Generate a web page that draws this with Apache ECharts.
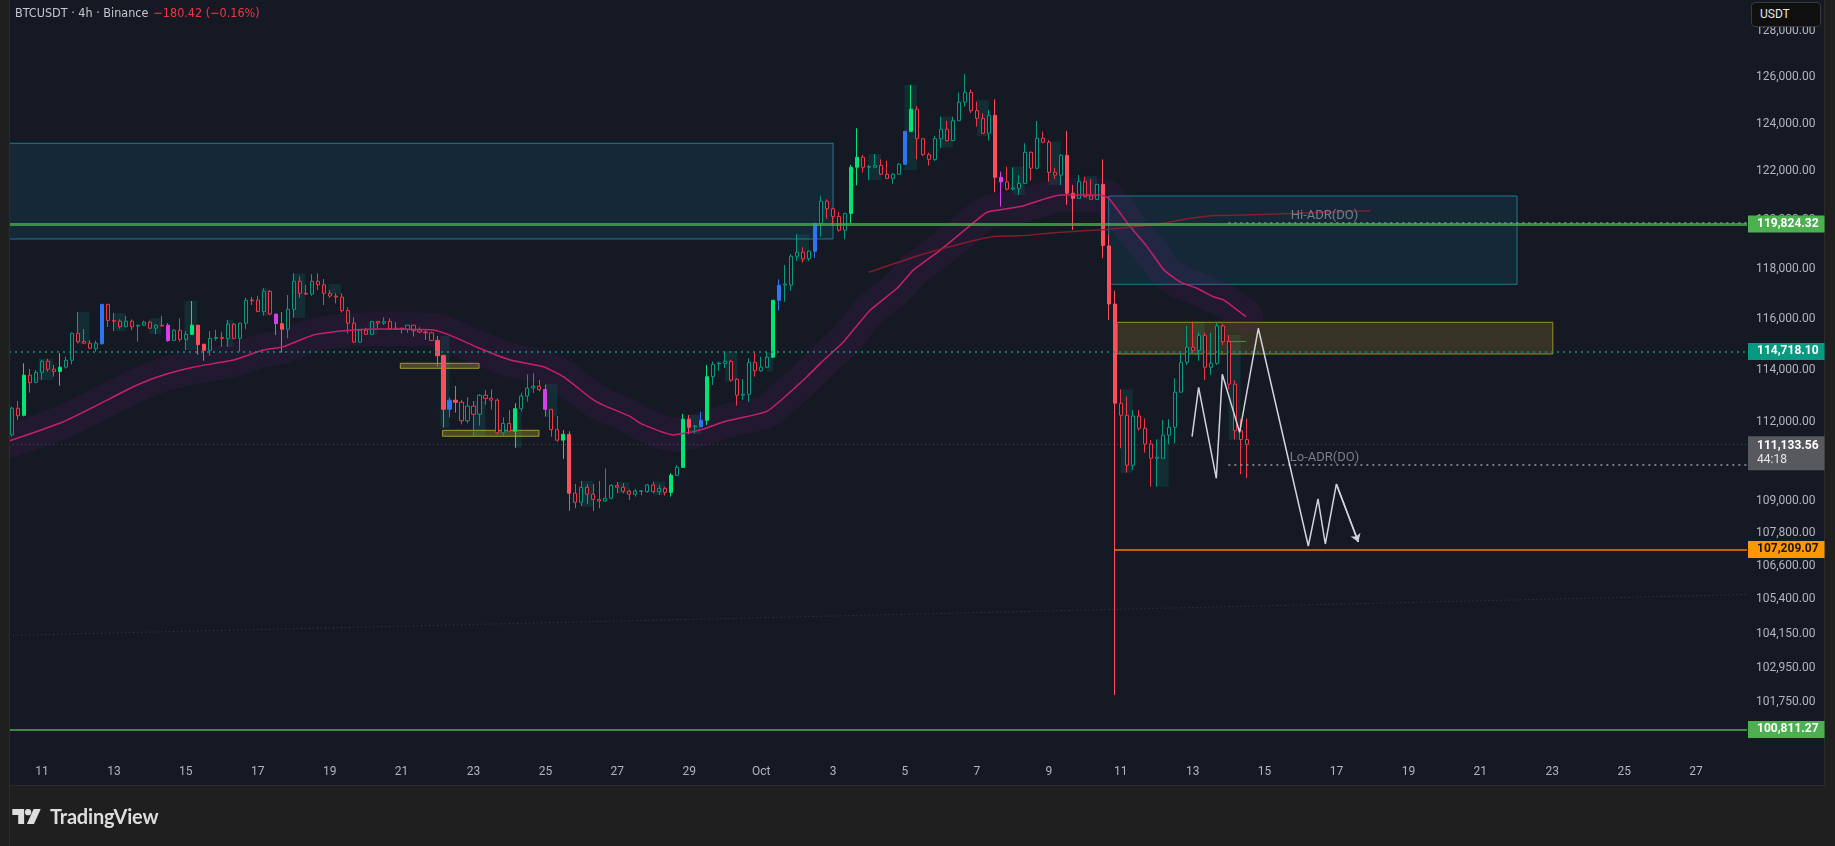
<!DOCTYPE html>
<html>
<head>
<meta charset="utf-8">
<title>BTCUSDT 4h</title>
<script src="https://cdn.jsdelivr.net/npm/echarts@6.0.0/dist/echarts.min.js"></script>
<style>
  html, body { margin:0; padding:0; width:1835px; height:846px; overflow:hidden; background:#1f1f1f; }
  #panel { position:absolute; left:10px; top:0; width:1814px; height:785px; background:#151924; box-shadow:0 0 0 1px #2b2b2b; }
  #chart { position:absolute; left:0; top:0; width:1835px; height:846px; }
  #lcover { position:absolute; left:0; top:0; width:10px; height:846px; background:#1f1f1f; border-right:1px solid #2c2c2c; box-sizing:border-box; }
  #title { position:absolute; left:15px; top:5px; font:12.5px 'Liberation Sans Narrow','DejaVu Sans Condensed',Roboto,sans-serif; color:#c5c8cf; white-space:nowrap; }
  #title .chg { color:#f23645; margin-left:5px; }
  #usdt { position:absolute; left:1751px; top:2px; width:70px; height:25px; box-sizing:border-box; background:#0f0f0f; border:1px solid #3a3a3a; border-radius:4px; color:#e6e6e6; font:12px Roboto,sans-serif; line-height:23px; padding-left:8px; }
  #logo { position:absolute; left:12px; top:804px; display:flex; align-items:center; color:#dedede; font:700 20px Lato,Roboto,sans-serif; letter-spacing:-0.2px; }
  #logo svg { margin-right:9px; }
</style>
</head>
<body>
<div id="panel"></div>
<div id="chart"></div>
<div id="lcover"></div>
<div id="title">BTCUSDT · 4h · Binance<span class="chg">−180.42 (−0.16%)</span></div>
<div id="usdt">USDT</div>
<div id="logo"><svg width="29" height="15" viewBox="0 0 36 19"><path d="M0 0h15v19H7.5V7.5H0z" fill="#dedede"/><circle cx="20" cy="4" r="4" fill="#dedede"/><path d="M27 0h9l-8.5 19h-9z" fill="#dedede"/></svg>TradingView</div>
<script>
// ---------------- data ----------------
const open = [
111490,112510,112240,113790,113510,113900,114330,114020,113940,114100,
114370,115430,115110,115040,114820,115020,116580,115940,115910,115690,
115910,115720,115750,115870,115630,115750,115750,115150,115550,115190,
115390,115750,115000,114760,115230,115270,115230,115790,115230,115830,
116750,116750,116290,117100,116190,115810,115590,116380,117500,117020,
116990,117500,117360,117020,116910,116870,116330,115830,115080,115550,
115390,115900,115830,115900,115630,115630,115590,115750,115560,115480,
115450,115150,114560,112470,112820,112740,112030,112590,112280,113010,
112890,112820,111570,111930,111630,112490,112980,113290,113360,113230,
112470,111690,111290,111510,109290,108950,109510,109250,109060,109000,
109100,109580,109510,109360,109250,109360,109350,109600,109350,109470,
109320,109960,110260,112090,111800,111800,112050,113730,114230,114250,
114330,113630,113010,113050,114290,113960,114100,114490,116740,117350,
117350,118510,118670,118410,118710,119850,120760,120450,120130,119570,
120260,122170,122590,122170,122170,122250,121880,121710,121880,122300,
123680,124620,123370,122700,122500,123370,123770,123290,124130,124920,
125340,124560,124230,123600,124360,121750,121560,121260,121280,121500,
122800,122130,123390,123220,121960,121840,122670,121090,120880,121570,
120980,120840,121460,118930,116590,112700,112240,110340,112210,111740,
111140,110600,110600,111480,111780,113130,114290,114880,114760,115350,
114100,114250,115720,115100,113440,111650,111314
];
const high = [
112570,112790,114250,114030,113990,114380,114430,114190,114650,114510,
115450,116270,115600,115170,115140,116590,116590,116240,115980,116120,
115980,115760,115930,115930,115800,116120,115830,115600,116020,115520,
116710,115760,115010,115520,115560,115490,115960,115830,115840,116840,
116880,116920,117220,117150,116200,116270,116950,117820,117690,117360,
117790,117820,117590,117150,117020,117020,116460,116060,115590,115650,
115910,115910,116060,116020,115870,115650,115750,115750,115670,115590,
115490,115320,114580,112920,113370,112830,112940,112790,113050,113210,
113240,112890,112160,112440,112700,113110,113820,113860,113600,113420,
112470,112210,111670,111630,109630,109750,109630,109630,109750,110220,
109630,109710,109660,109430,109450,109410,109630,109720,109600,109530,
110040,110350,112290,112250,111870,112370,114190,114320,114320,114730,
114380,113670,113640,114450,114680,114510,114680,116750,117580,118160,
118600,119400,118880,118740,119850,120980,120840,120470,120330,120260,
122270,123810,122690,122270,122730,122500,122450,121920,122340,123680,
125660,124760,123370,122780,123490,124300,124130,124300,125340,126130,
125470,124940,124450,124590,125040,121990,122200,122170,121850,123180,
122830,124120,123670,123320,122150,122710,123700,121430,121850,121780,
121680,121480,122500,119380,117120,113240,112960,112440,112440,112120,
111300,111320,112060,112090,113670,114650,115720,115890,115470,115450,
115450,115850,115800,115360,113600,112090,112120
];
const low = [
111420,112060,112200,113110,113480,113600,113930,113730,113380,114040,
114210,115040,115010,114820,114710,114980,115690,115520,115610,115670,
115560,115100,115730,115610,115400,115690,115100,115140,115100,114770,
115380,114580,114350,114550,115140,114900,114900,115190,114710,115590,
116550,116270,116130,116150,115360,114670,115230,116050,116840,116950,
116920,117150,116550,116840,116620,116250,115430,115060,115060,115380,
115360,115630,115760,115600,115600,115430,115450,115300,115430,115170,
115130,114120,111770,112160,112340,111890,111930,111450,111840,112640,
112460,111510,111450,111610,111000,112380,112760,113100,113160,112190,
111420,111230,110580,108630,108730,108810,108880,108630,108730,108970,
109060,109290,109290,109040,109160,109210,109310,109290,109220,109200,
109160,109940,110240,111520,111550,111790,111870,113410,113960,114060,
113540,112610,112830,112760,113730,113930,114060,114470,116330,116680,
117120,118320,118250,118320,118440,119310,120030,119780,119510,119200,
119850,121420,121950,121640,122130,121850,121670,121480,121850,122270,
123670,122500,122640,122240,122430,122970,123250,123280,124130,124730,
124450,123880,123570,123290,121130,120540,121200,121200,121020,121480,
121610,122090,123180,121570,121680,121430,120610,119580,120880,120920,
120840,120810,118430,115960,102000,110980,110060,110160,111650,110810,
109530,109530,110600,111140,111170,113120,114190,114650,114350,113600,
113800,114190,114970,113240,111320,110000,109850
];
const close = [
112510,112220,113790,113500,113900,114330,114020,113930,114100,114370,
115430,115100,115040,114840,115040,116580,115940,115910,115690,115910,
115690,115750,115870,115630,115750,115720,115140,115550,115190,115390,
115750,114980,114760,115230,115270,115230,115790,115230,115830,116740,
116720,116290,117100,116190,115810,115590,116380,117500,117020,116990,
117500,117360,117020,116910,116870,116330,115830,115080,115550,115390,
115900,115830,115890,115610,115600,115600,115750,115530,115480,115450,
115150,114550,112470,112820,112740,112030,112590,112280,113010,112890,
112820,111570,111930,111630,112490,112980,113290,113360,113230,112470,
111690,111290,111510,109290,108950,109510,109250,109060,109000,109100,
109580,109510,109360,109250,109370,109380,109600,109350,109470,109320,
109960,110260,112090,111780,111830,112050,113730,114210,114260,114330,
113600,113010,113050,114290,113960,114100,114490,116740,117340,117390,
118510,118670,118410,118720,119850,120760,120450,120130,119570,120260,
122170,122590,122170,122200,122250,121880,121710,121880,122300,123680,
124620,123370,122700,122500,123370,123770,123290,124130,124920,125340,
124560,124230,123600,124360,121750,121560,121260,121310,121500,122800,
122130,123390,123220,121960,121840,122670,121090,120880,121570,120950,
120840,121460,118950,116590,112700,112240,110340,112210,111740,111140,
110600,110640,111480,111780,113130,114290,114880,114760,115350,114100,
114250,115720,115100,113440,111650,111314,111133.56
];
// candle numbers (1-based) drawn as filled "vector" candles
const climaxUp   = [3,9,31,85,93,111,113,117,128,141,142,151];
const climaxDown = [32,33,46,72,73,75,94,114,165,177,178,183,184,185];
const volUp      = [16,74,116,129,135,150];
const volDown    = [27,45,90,166];

// moving averages: [bar position, price]
const emaPts = [[-0.5,111260],[3.55,111570],[8.56,111990],[14.23,112630],[20.24,113340],[24.75,113760],[30.25,114100],[36.93,114380],[41.93,114770],[45.27,114900],[50.27,115360],[54.78,115520],[60.9,115600],[70.3,115560],[73.64,115300],[77.59,114880],[83.15,114380],[88.65,114120],[91.99,113730],[97.0,112830],[98.67,112630],[103.17,112190],[104.84,111930],[110.35,111490],[114.85,111680],[119.36,112030],[126.03,112400],[132.65,113730],[134.87,114250],[138.76,115100],[143.22,116350],[147.67,117220],[150.44,117960],[154.9,118760],[161.0,119990],[162.7,120310],[168.25,120540],[174.93,121020],[181.6,121020],[183.0,120880],[186.6,119710],[189.4,118900],[192.2,117960],[194.9,117480],[197.7,117220],[200.5,116880],[202.2,116750],[205.9,116090]];
const ma2Pts = [[142.93,117860],[151.56,118560],[158.23,119010],[163.79,119310],[168.25,119340],[173.8,119470],[182.98,119610],[192.16,119850],[194.95,119990],[200.5,120170],[206.07,120190],[226.65,120370]];

// zones: [fromBar, toBar, topPrice, bottomPrice]
const tealZones   = [[-0.5,137.0,123176,119211],[182.98,251.13,120977,117379]];
const yellowZones = [[184.4,257.1,115865,114616]];
const yellowSmall = [[64.79,77.93,114252,114056],[71.85,87.94,111665,111437]];
const shadeBoxes = [
[4.44,6.84,114430,113600],[10.85,12.9,116274,115000],[16.95,18.9,116235,115520],[22.9,24.9,116023,115403],
[28.8,30.9,116712,114773],[35.7,36.9,115956,114890],[41.6,42.8,117219,116127],[46.8,48.9,117822,116035],
[52.8,54.9,117392,116979],[59.5,60.9,115889,115363],[71.5,73.0,115323,111765],[76.9,79.0,112790,111448],
[83.9,85.0,112378,111004],[89.0,91.0,113447,112185],[94.9,97.0,109746,108790],[101.0,103.0,109709,109285],
[107.0,109.0,109721,109222],[113.0,115.0,112251,111524],[119.0,121.0,114734,113536],[126.0,127.0,114682,113925],
[130.9,133.0,119404,118300],[142.9,145.0,122727,121641],[148.9,151.0,125657,122057],[154.9,157.0,124304,123000],
[161.0,163.0,125013,123485],[167.0,169.0,122195,121019],[173.0,175.0,123264,121433],[179.0,181.0,121808,120841],
[185.0,187.0,113241,110058],[191.0,193.0,111322,109534],[197.0,199.0,115889,114645],[203.0,205.0,115363,111296]
];
// projected path drawn on the chart: [bar position, price]
const zigPts = [[196.9,111422],[198.0,113318],[200.95,109848],[201.95,113823],[204.84,111590],[207.96,115628],[216.3,107334],[217.92,109074],[219.14,107408],[220.98,109633],[224.65,107481]];

// horizontal levels
const levelGreen = 119824.32, levelTeal = 114718.10, levelOrange = 107209.07, levelLow = 100811.27;
const lastPrice = 111133.56, countdown = '44:18';
const hiADR = 119878, loADR = 110349, adrFrom = 202.96;
const redShort = [202.7, 205.9, 115100];
const faintTrend = [[-0.5,104104],[289.3,105569]];
const hiLabel = [219, 120152], loLabel = [219, 110639];

// price axis tick labels and visible range
const yTicks = [128000,126000,124000,122000,120000,118000,116000,114000,112000,109000,107800,106600,105400,104150,102950,101750];
const yMin = 99865, yMax = 129360;

// time slots (4h bars) from 10 Sep 04:00
const NSLOTS = 290;
const startUTC = Date.UTC(2025, 8, 10, 4, 0);
const categories = [];
for (let i = 0; i < NSLOTS; i++) {
  categories.push(new Date(startUTC + i * 4 * 3600 * 1000).toISOString().slice(0,16).replace('T',' '));
}
const months = ['Jan','Feb','Mar','Apr','May','Jun','Jul','Aug','Sep','Oct','Nov','Dec'];

// ---------------- chart ----------------
const L = Math.log;
const BG = '#151924', UP = '#089981', DN = '#f23645';
const FONT = 'Roboto, sans-serif';
const fmt = p => p.toLocaleString('en-US', {minimumFractionDigits:2, maximumFractionDigits:2});

const special = {};
climaxUp.forEach(n => special[n] = '#00e676');
climaxDown.forEach(n => special[n] = '#ff4d5e');
volUp.forEach(n => special[n] = '#2f74f0');
volDown.forEach(n => special[n] = '#d63fe8');

const candleData = open.map((o, k) => {
  const v = [L(o), L(close[k]), L(low[k]), L(high[k])];
  const c = special[k + 1];
  return c ? {value: v, itemStyle: {color: c, color0: c, borderColor: c, borderColor0: c}} : v;
});

const area = (z, fill, border, bw) => [
  {coord: [z[0], L(z[2])], itemStyle: {color: fill, borderColor: border, borderWidth: bw}},
  {coord: [z[1], L(z[3])]}
];
const areaData = [].concat(
  shadeBoxes.map(z => area(z, 'rgba(8,153,129,0.16)', 'transparent', 0)),
  tealZones.map(z => area(z, 'rgba(25,120,160,0.17)', 'rgba(36,150,176,0.75)', 1)),
  yellowZones.map(z => area(z, 'rgba(255,200,40,0.15)', 'rgba(200,190,40,0.7)', 1)),
  yellowSmall.map(z => area(z, 'rgba(220,200,40,0.28)', 'rgba(190,180,50,0.8)', 1))
);

const priceLabel = (txt, bg, fg) => ({
  show: true, position: 'end', distance: 1, formatter: txt,
  backgroundColor: bg, color: fg, padding: [3, 6, 2, 9],
  fontSize: 12, fontFamily: FONT, fontWeight: 'bold'
});
const hLine = (x1, x2, p, style, label) => [
  {coord: [x1, L(p)], lineStyle: style, label: label || {show: false}},
  {coord: [x2, L(p)]}
];
const RIGHT = NSLOTS - 0.5, LEFT = -0.5;

const lineData = [
  [{coord: [faintTrend[0][0], L(faintTrend[0][1])], lineStyle: {color: 'rgba(140,143,155,0.35)', width: 1, type: [1, 3]}, label: {show: false}}, {coord: [faintTrend[1][0], L(faintTrend[1][1])]}],
  hLine(LEFT, RIGHT, lastPrice, {color: 'rgba(149,152,161,0.35)', width: 1, type: [1, 3]}, {
    show: true, position: 'end', distance: 1, offset: [0, 9],
    formatter: '{a|' + fmt(lastPrice) + '}\n{b|' + countdown + '}',
    backgroundColor: '#58595e', padding: [3, 6, 3, 9],
    rich: {a: {color: '#ffffff', fontSize: 12, fontFamily: FONT, fontWeight: 'bold', lineHeight: 14},
           b: {color: '#e6e6e6', fontSize: 12, fontFamily: FONT, lineHeight: 14}}
  }),
  hLine(adrFrom, RIGHT, hiADR, {color: '#9598a1', width: 1.5, type: [2, 4]}),
  hLine(adrFrom, RIGHT, loADR, {color: '#9598a1', width: 1.5, type: [2, 4]}),
  hLine(LEFT, RIGHT, levelGreen, {color: 'rgba(76,175,80,0.75)', width: 3, type: 'solid'}, priceLabel(fmt(levelGreen), '#4caf50', '#ffffff')),
  hLine(LEFT, RIGHT, levelTeal, {color: '#089981', width: 1.5, type: [2, 4]}, priceLabel(fmt(levelTeal), '#089981', '#ffffff')),
  hLine(184, RIGHT, levelOrange, {color: '#f57c00', width: 1.5, type: 'solid'}, priceLabel(fmt(levelOrange), '#ff9800', '#131722')),
  hLine(LEFT, RIGHT, levelLow, {color: '#4caf50', width: 1.5, type: 'solid', opacity: 1}, priceLabel(fmt(levelLow), '#4caf50', '#ffffff')),
  hLine(redShort[0], redShort[1], redShort[2], {color: DN, width: 1, type: 'solid'})
];

const lnPts = pts => pts.map(p => [p[0], L(p[1])]);
const last2 = zigPts.slice(-2);

const option = {
  animation: false,
  backgroundColor: 'transparent',
  grid: {left: 9, right: 88, top: 0, bottom: 89, outerBoundsMode: 'none'},
  xAxis: [
    {
      type: 'category', data: categories, boundaryGap: true,
      axisLine: {show: false}, axisTick: {show: false}, splitLine: {show: false},
      axisLabel: {
        interval: (i) => i >= 5 && (i - 5) % 12 === 0,
        formatter: (val) => {
          const d = new Date(val.replace(' ', 'T') + ':00Z');
          return d.getUTCDate() === 1 ? months[d.getUTCMonth()] : String(d.getUTCDate());
        },
        color: '#b2b5be', fontSize: 12, fontFamily: FONT, margin: 9
      }
    },
    {type: 'value', min: LEFT, max: RIGHT, show: false, splitLine: {show: false}}
  ],
  yAxis: {
    type: 'value', position: 'right', min: L(yMin), max: L(yMax),
    axisLine: {show: false}, splitLine: {show: false},
    axisTick: {show: false, customValues: yTicks.map(L)},
    axisLabel: {
      customValues: yTicks.map(L),
      formatter: (v) => {
        const p = Math.exp(v);
        let best = yTicks[0];
        yTicks.forEach(t => { if (Math.abs(t - p) < Math.abs(best - p)) best = t; });
        return fmt(best);
      },
      color: '#b2b5be', fontSize: 12, fontFamily: FONT, margin: 9
    }
  },
  series: [
    {
      name: 'zones', type: 'line', xAxisIndex: 1, data: [], z: 1, silent: true,
      markArea: {silent: true, label: {show: false}, data: areaData}
    },
    {
      name: 'band', type: 'line', xAxisIndex: 1, z: 1, silent: true, showSymbol: false, symbol: 'none', smooth: 0.15,
      data: lnPts(emaPts), lineStyle: {color: 'rgba(140,30,150,0.11)', width: 34, cap: 'round', join: 'round'}
    },
    {
      name: 'BTCUSDT', type: 'candlestick', xAxisIndex: 0, z: 3, barWidth: 3.6,
      data: candleData,
      itemStyle: {color: BG, color0: BG, borderColor: UP, borderColor0: DN, borderWidth: 1}
    },
    {
      name: 'EMA', type: 'line', xAxisIndex: 1, z: 4, silent: true, symbol: 'none', smooth: 0.15,
      data: lnPts(emaPts), lineStyle: {color: '#c8206a', width: 1.5}
    },
    {
      name: 'MA2', type: 'line', xAxisIndex: 1, z: 4, silent: true, symbol: 'none', smooth: 0.2,
      data: lnPts(ma2Pts), lineStyle: {color: 'rgba(150,28,48,0.85)', width: 1.5}
    },
    {
      name: 'levels', type: 'line', xAxisIndex: 1, data: [], z: 5, silent: true,
      markLine: {silent: true, symbol: ['none', 'none'], label: {show: false}, data: lineData},
      markPoint: {
        silent: true, symbol: 'rect', symbolSize: [1, 1], itemStyle: {color: 'transparent'},
        label: {show: true, position: 'inside', color: '#7a7d88', fontSize: 13, fontFamily: FONT},
        data: [
          {coord: [hiLabel[0], L(hiLabel[1])], label: {formatter: 'Hi-ADR(DO)'}},
          {coord: [loLabel[0], L(loLabel[1])], label: {formatter: 'Lo-ADR(DO)'}}
        ]
      }
    },
    {
      name: 'path', type: 'line', xAxisIndex: 1, z: 6, silent: true, symbol: 'none',
      data: lnPts(zigPts), lineStyle: {color: '#d1d4dc', width: 1.5},
      markLine: {
        silent: true, symbol: ['none', 'arrow'], symbolSize: 8, label: {show: false},
        lineStyle: {color: '#d1d4dc', width: 1.5, type: 'solid'},
        data: [[{coord: [last2[0][0], L(last2[0][1])]}, {coord: [last2[1][0], L(last2[1][1])]}]]
      }
    }
  ]
};

const chart = echarts.init(document.getElementById('chart'), null, {renderer: 'canvas'});
chart.setOption(option);
</script>
</body>
</html>
